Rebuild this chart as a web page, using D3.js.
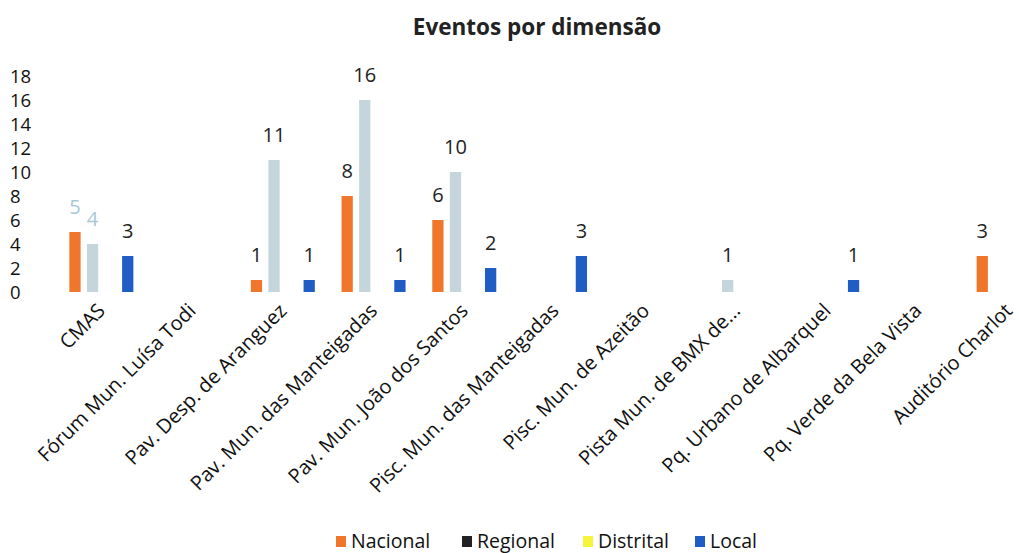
<!DOCTYPE html>
<html>
<head>
<meta charset="utf-8">
<script src="https://cdn.jsdelivr.net/npm/d3@7"></script>
<style>
  body { margin: 0; background: #fff; }
  text { font-family: "Open Sans", "Noto Sans", sans-serif; }
</style>
</head>
<body>
<div id="chart-area"></div>
<script>
// categories + series (null = no value shown)
var categories = ["CMAS", "Fórum Mun. Luísa Todi", "Pav. Desp. de Aranguez",
    "Pav. Mun. das Manteigadas", "Pav. Mun. João dos Santos", "Pisc. Mun. das Manteigadas",
    "Pisc. Mun. de Azeitão", "Pista Mun. de BMX de...", "Pq. Urbano de Albarquel",
    "Pq. Verde da Bela Vista", "Auditório Charlot"];
var nacional  = [5, null, 1, 8, 6, null, null, null, null, null, 3];
var regional  = [4, null, 11, 16, 10, null, null, 1, null, null, null];
var distrital = [null, null, null, null, null, null, null, null, null, null, null];
var local     = [3, null, 1, 1, 2, 3, null, null, 1, null, null];
var seriesNames = ["Nacional", "Regional", "Distrital", "Local"];
var yTicks = [0, 2, 4, 6, 8, 10, 12, 14, 16, 18];

var colors = { Nacional: "#f0762b", Regional: "#c4d5dc", Distrital: "#f5f53a", Local: "#1f5cc4" };

var width = 1019, height = 553;
var svg = d3.select("#chart-area").append("svg")
    .attr("width", width)
    .attr("height", height);

var series = [
    { name: "Nacional", values: nacional },
    { name: "Regional", values: regional },
    { name: "Distrital", values: distrital },
    { name: "Local", values: local }
];

// Scales
var x = d3.scaleBand().domain(categories).range([56, 1054]);
var xs = d3.scaleBand().domain(seriesNames).range([x.bandwidth() / 2 - 32, x.bandwidth() / 2 + 32]).paddingInner(0.36);
var y = d3.scaleLinear().domain([0, 18]).range([292, 76]);

// Title
svg.append("text")
    .attr("x", 537)
    .attr("y", 35)
    .attr("text-anchor", "middle")
    .style("font-size", "22.5px")
    .style("font-weight", "bold")
    .attr("fill", "#222")
    .text("Eventos por dimensão");

// Y axis labels (no line)
svg.append("g").selectAll("text")
    .data(yTicks)
    .enter().append("text")
    .attr("x", 10)
    .attr("y", function(d) { return y(d) + 7; })
    .style("font-size", "18.5px")
    .attr("fill", "#111")
    .text(function(d) { return d; });

// Bars
var groups = svg.append("g").selectAll("g")
    .data(series)
    .enter().append("g")
    .attr("fill", function(s) { return colors[s.name]; });

groups.selectAll("rect")
    .data(function(s) {
        return s.values.map(function(v, i) { return { name: s.name, cat: categories[i], v: v }; })
            .filter(function(d) { return d.v != null; });
    })
    .enter().append("rect")
    .attr("x", function(d) { return x(d.cat) + xs(d.name); })
    .attr("width", xs.bandwidth())
    .attr("y", function(d) { return y(d.v); })
    .attr("height", function(d) { return y(0) - y(d.v); });

// Value labels
groups.selectAll("text")
    .data(function(s) {
        return s.values.map(function(v, i) { return { name: s.name, cat: categories[i], v: v, i: i }; })
            .filter(function(d) { return d.v != null; });
    })
    .enter().append("text")
    .attr("x", function(d) { return x(d.cat) + xs(d.name) + xs.bandwidth() / 2; })
    .attr("y", function(d) { return y(d.v) - 18; })
    .attr("text-anchor", "middle")
    .style("font-size", "20px")
    .attr("fill", function(d) { return d.i === 0 && d.name !== "Local" ? "#a9c7d6" : "#222"; })
    .text(function(d) { return d.v; });

// X labels rotated
svg.append("g").selectAll("text")
    .data(categories)
    .enter().append("text")
    .attr("transform", function(d) {
        return "translate(" + (x(d) + x.bandwidth() / 2 + 5) + ",312) rotate(-45)";
    })
    .attr("text-anchor", "end")
    .style("font-size", "20px")
    .attr("fill", "#111")
    .text(function(d) { return d; });

// Legend
var legendX = [336, 462, 583, 695];
var legend = svg.append("g").selectAll("g")
    .data(seriesNames)
    .enter().append("g")
    .attr("transform", function(d, i) { return "translate(" + legendX[i] + ",536)"; });

legend.append("rect")
    .attr("width", 10)
    .attr("height", 11)
    .attr("fill", function(d) { return d === "Regional" ? "#222" : colors[d]; });

legend.append("text")
    .attr("x", 15)
    .attr("y", 12)
    .style("font-size", "19.5px")
    .attr("fill", "#111")
    .text(function(d) { return d; });
</script>
</body>
</html>
